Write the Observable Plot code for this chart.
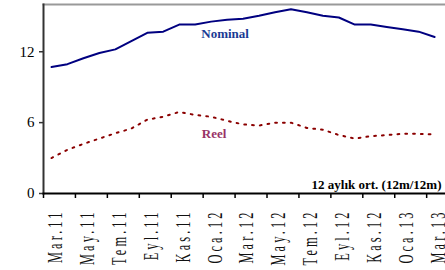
<!DOCTYPE html>
<html>
<head>
<meta charset="utf-8">
<script src="https://cdn.jsdelivr.net/npm/d3@7"></script>
<script src="https://cdn.jsdelivr.net/npm/@observablehq/plot@0.6"></script>
<style>
  html, body { margin: 0; padding: 0; background: #fff; }
  #chart { width: 445px; height: 270px; overflow: hidden; }
  #chart svg, #chart svg text { font-family: "Liberation Serif", "Times New Roman", serif !important; }
</style>
</head>
<body>
<div id="chart"></div>
<script>
const months = ["Mar.11","Nis.11","May.11","Haz.11","Tem.11","Ağu.11","Eyl.11","Eki.11","Kas.11","Ara.11",
  "Oca.12","Şub.12","Mar.12","Nis.12","May.12","Haz.12","Tem.12","Ağu.12","Eyl.12","Eki.12",
  "Kas.12","Ara.12","Oca.13","Şub.13","Mar.13"];
const nominal = [10.7, 10.95, 11.45, 11.9, 12.2, 12.9, 13.6, 13.7, 14.3, 14.3, 14.55, 14.7, 14.8,
  15.05, 15.35, 15.6, 15.35, 15.05, 14.9, 14.3, 14.3, 14.1, 13.9, 13.7, 13.25];
const reel = [3.0, 3.7, 4.2, 4.65, 5.1, 5.5, 6.25, 6.5, 6.9, 6.65, 6.5, 6.15, 5.85,
  5.75, 6.0, 6.0, 5.55, 5.4, 4.95, 4.65, 4.85, 4.95, 5.05, 5.05, 5.0];
const yTicks = [0, 6, 12];
const seriesNames = ["Nominal", "Reel"];
const captionText = "12 aylık ort. (12m/12m)";

const data = months.map((m, i) => ({i, m, nominal: nominal[i], reel: reel[i]}));
const labelIdx = months.map((m, i) => i).filter(i => i % 2 === 0);
const boundaryIdx = labelIdx.map(i => i - 0.5);

const serif = "Liberation Serif, Times New Roman, serif";

const chart = Plot.plot({
  width: 445,
  height: 270,
  marginLeft: 43,
  marginRight: 0,
  marginTop: 4,
  marginBottom: 77,
  x: {type: "linear", domain: [-0.5, 24.68]},
  y: {domain: [0, 16]},
  style: {fontFamily: serif, background: "#fff", color: "#000"},
  marks: [
    Plot.frame({anchor: "top", stroke: "#999", strokeWidth: 2}),
    Plot.axisY({ticks: yTicks, tickSize: 4, tickPadding: 5, fontSize: 15, stroke: "#333", strokeWidth: 1.5, label: null, tickFormat: d => String(d)}),
    Plot.axisX({ticks: boundaryIdx, tickSize: 5, stroke: "#000", strokeWidth: 1.5, tickFormat: () => "", label: null}),
    Plot.axisX({ticks: labelIdx, tickSize: 0, tickPadding: 16, tickRotate: -90, fontSize: 20, dx: 4,
      tickFormat: i => months[i], label: null, fill: "#111"}),
    Plot.frame({anchor: "left", stroke: "#333", strokeWidth: 2}),
    Plot.frame({anchor: "bottom", stroke: "#000", strokeWidth: 2}),
    Plot.line(data, {x: "i", y: "nominal", stroke: "#000080", strokeWidth: 2}),
    Plot.line(data, {x: "i", y: "reel", stroke: "#8b0000", strokeWidth: 2, strokeDasharray: "1.8,6"}),
    Plot.text([data[11]], {x: "i", y: "nominal", text: () => seriesNames[0], dx: -2, dy: 18, lineAnchor: "bottom",
      fontSize: 13, fontWeight: "bold", fill: "#1a3a94"}),
    Plot.text([data[10]], {x: "i", y: "reel", text: () => seriesNames[1], dx: 3, dy: 21, lineAnchor: "bottom",
      fontSize: 13, fontWeight: "bold", fill: "#993366"}),
    Plot.text([captionText], {frameAnchor: "bottom-right", text: d => d, textAnchor: "end", lineAnchor: "bottom",
      dx: -4, dy: -5, fontSize: 13, fontWeight: "bold", fill: "#000"})
  ]
});

// compress x tick labels along their reading direction, with wide letter spacing
d3.select(chart).selectAll('g[aria-label="x-axis tick label"] text').each(function() {
  const t = this.getAttribute("transform") || "";
  this.setAttribute("transform", t + " scale(0.62,1)");
  this.setAttribute("letter-spacing", "5");
});

document.getElementById("chart").appendChild(chart);
</script>
</body>
</html>
